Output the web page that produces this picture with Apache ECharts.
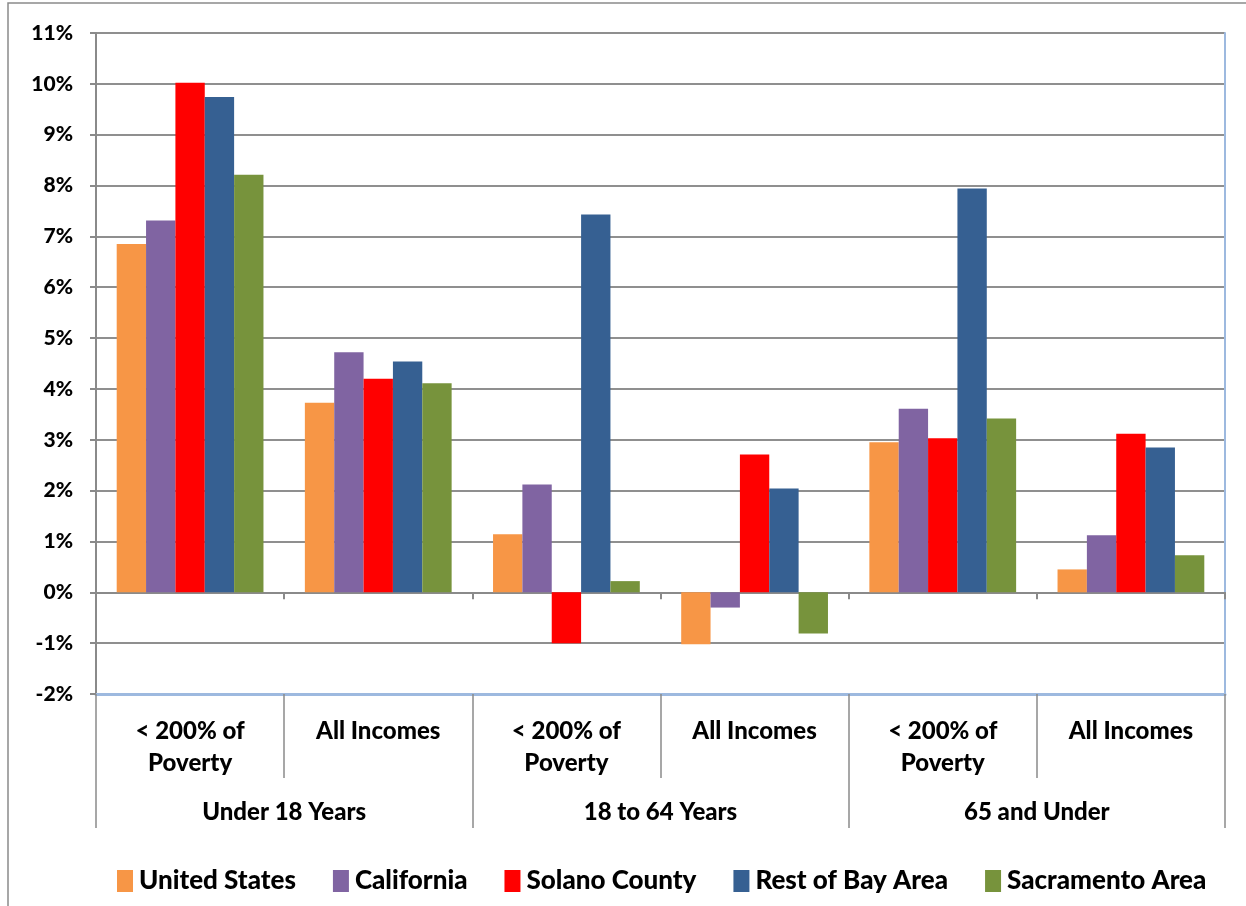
<!DOCTYPE html>
<html>
<head>
<meta charset="utf-8">
<script src="https://cdn.jsdelivr.net/npm/echarts@6/dist/echarts.min.js"></script>
<style>
html,body{margin:0;padding:0;background:#fff;}
#chart{width:1246px;height:906px;}
</style>
</head>
<body>
<div id="chart"></div>
<script>
const subCategories = ['< 200% of\nPoverty', 'All Incomes', '< 200% of\nPoverty', 'All Incomes', '< 200% of\nPoverty', 'All Incomes'];
const groups = ['Under 18 Years', '18 to 64 Years', '65 and Under'];
const seriesNames = ['United States', 'California', 'Solano County', 'Rest of Bay Area', 'Sacramento Area'];
const unitedStates = [6.85, 3.73, 1.14, -1.02, 2.95, 0.45];
const california = [7.31, 4.72, 2.12, -0.30, 3.61, 1.12];
const solanoCounty = [10.02, 4.20, -1.00, 2.71, 3.03, 3.12];
const restOfBayArea = [9.74, 4.54, 7.43, 2.04, 7.94, 2.85];
const sacramentoArea = [8.21, 4.11, 0.22, -0.81, 3.42, 0.73];
const yTicks = { min: -2, max: 11, interval: 1 };

const colors = ['#F79646', '#8064A2', '#FF0000', '#366092', '#77933C'];
const values = [unitedStates, california, solanoCounty, restOfBayArea, sacramentoArea];
const FONT = 'Lato';
const W = 900;

const chart = echarts.init(document.getElementById('chart'));
chart.setOption({
  animation: false,
  textStyle: { fontFamily: FONT },
  graphic: [{
    type: 'rect', silent: true,
    shape: { x: 8, y: 3, width: 1260, height: 920 },
    style: { fill: 'none', stroke: '#8a8a8a', lineWidth: 1.5 }
  }],
  grid: { left: 96, right: 21, top: 33, bottom: 212 },
  legend: {
    bottom: 7, left: 112,
    itemWidth: 16, itemHeight: 22, itemGap: 37,
    icon: 'rect',
    textStyle: { fontFamily: FONT, fontWeight: W, fontSize: 26, color: '#000', padding: [0, 0, 0, 1] },
    data: seriesNames
  },
  xAxis: [
    {
      type: 'category', data: subCategories,
      axisLine: { onZero: true, lineStyle: { color: '#8a8a8a', width: 2 } },
      axisTick: { show: true, length: 7, lineStyle: { color: '#8a8a8a', width: 2 } },
      axisLabel: { show: false }, splitLine: { show: false }
    },
    {
      type: 'category', data: subCategories, position: 'bottom',
      axisLine: { onZero: false, lineStyle: { color: '#9db9df', width: 3 } },
      axisTick: { show: true, interval: 0, length: 84, lineStyle: { color: '#8a8a8a', width: 1.5 } },
      axisLabel: { show: true, interval: 0, margin: 21, fontFamily: FONT, fontWeight: W, fontSize: 24, lineHeight: 32, color: '#000' },
      splitLine: { show: false }
    },
    {
      type: 'category', data: groups, position: 'bottom',
      axisLine: { show: false, onZero: false },
      axisTick: { show: true, interval: 0, length: 134, lineStyle: { color: '#8a8a8a', width: 1.5 } },
      axisLabel: { show: true, interval: 0, margin: 106, fontFamily: FONT, fontWeight: W, fontSize: 24, color: '#000' },
      splitLine: { show: false }
    }
  ],
  yAxis: [
    {
      type: 'value', min: yTicks.min, max: yTicks.max, interval: yTicks.interval,
      axisLine: { show: true, lineStyle: { color: '#8a8a8a', width: 2 } },
      axisTick: { show: true, length: 6, lineStyle: { color: '#8a8a8a', width: 2 } },
      axisLabel: { formatter: '{value}%', fontFamily: FONT, fontWeight: W, fontSize: 21, color: '#000', margin: 23 },
      splitLine: { show: true, lineStyle: { color: '#8f8f8f', width: 2 } }
    },
    {
      type: 'value', min: yTicks.min, max: yTicks.max, interval: yTicks.interval, position: 'right',
      axisLine: { show: true, lineStyle: { color: '#9db9df', width: 2 } },
      axisTick: { show: false }, axisLabel: { show: false }, splitLine: { show: false }
    }
  ],
  series: seriesNames.map((name, i) => ({
    name, type: 'bar', xAxisIndex: 0, yAxisIndex: 0,
    data: values[i],
    itemStyle: { color: colors[i] },
    barGap: '0%', barCategoryGap: '22%'
  }))
});
</script>
</body>
</html>
